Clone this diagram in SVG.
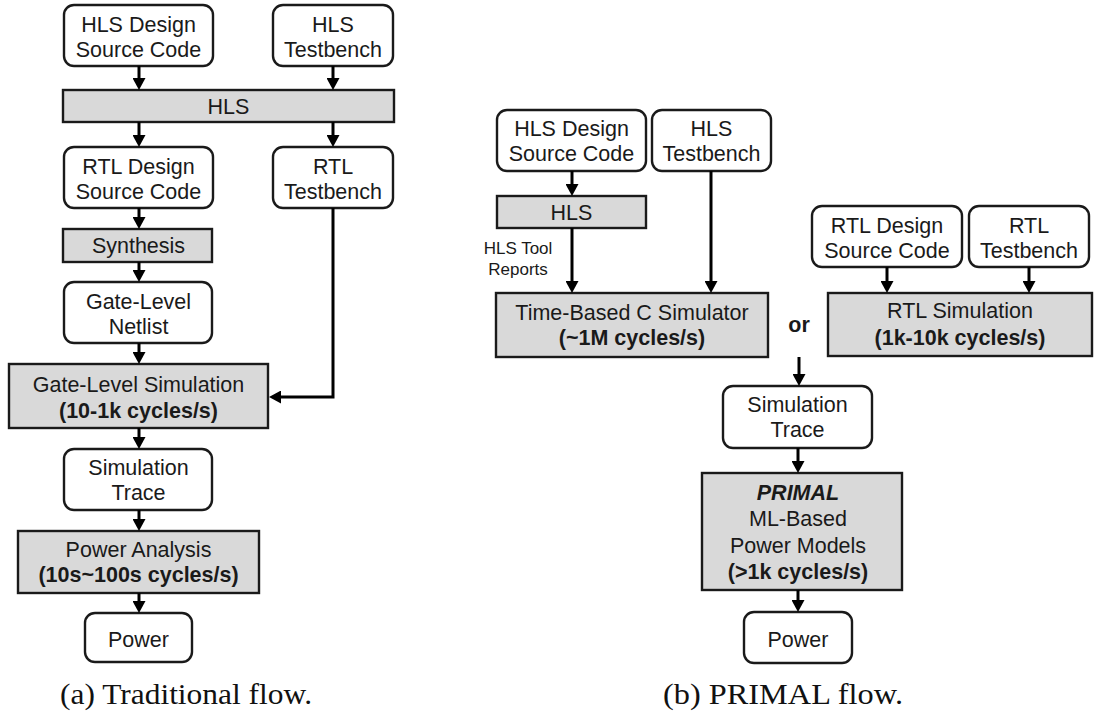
<svg xmlns="http://www.w3.org/2000/svg" width="1094" height="714" viewBox="0 0 1094 714">
  <defs>
    <marker id="arrow" markerUnits="userSpaceOnUse" markerWidth="13" markerHeight="13" refX="2" refY="6.5" orient="auto">
      <path d="M0,0 L12,6.5 L0,13 z" fill="#000"/>
    </marker>
    <style>
      .box { fill: #fff; stroke: #1a1a1a; stroke-width: 2.4; }
      .proc { fill: #d9d9d9; stroke: #1a1a1a; stroke-width: 2.4; }
      .t { font-family: "Liberation Sans", Arial, sans-serif; font-size: 21.5px; fill: #1a1a1a; text-anchor: middle; }
      .b { font-weight: bold; }
      .i { font-style: italic; }
      .small { font-family: "Liberation Sans", Arial, sans-serif; font-size: 17px; fill: #1a1a1a; text-anchor: middle; }
      .cap { font-family: "Liberation Serif", "Times New Roman", serif; font-size: 30px; fill: #111; }
      .conn { fill: none; stroke: #000; stroke-width: 3; }
    </style>
  </defs>
  <rect width="1094" height="714" fill="#fff"/>

  <!-- Traditional flow -->
  <g id="a-hls-src"><rect class="box" x="64" y="5" width="149" height="61" rx="10"/>
    <text class="t" x="138.5" y="32">HLS Design</text><text class="t" x="138.5" y="57">Source Code</text></g>
  <g id="a-hls-tb"><rect class="box" x="273" y="5" width="120" height="61" rx="10"/>
    <text class="t" x="333" y="32">HLS</text><text class="t" x="333" y="57">Testbench</text></g>
  <g id="a-hls"><rect class="proc" x="63" y="90" width="331" height="32"/>
    <text class="t" x="228.5" y="114">HLS</text></g>
  <g id="a-rtl-src"><rect class="box" x="64" y="147" width="149" height="61" rx="10"/>
    <text class="t" x="138.5" y="174">RTL Design</text><text class="t" x="138.5" y="199">Source Code</text></g>
  <g id="a-rtl-tb"><rect class="box" x="273" y="147" width="120" height="61" rx="10"/>
    <text class="t" x="333" y="174">RTL</text><text class="t" x="333" y="199">Testbench</text></g>
  <g id="a-synth"><rect class="proc" x="63" y="229" width="149" height="33"/>
    <text class="t" x="138.5" y="253">Synthesis</text></g>
  <g id="a-netlist"><rect class="box" x="64" y="282" width="148" height="61" rx="10"/>
    <text class="t" x="138.5" y="309">Gate-Level</text><text class="t" x="138.5" y="334">Netlist</text></g>
  <g id="a-gls"><rect class="proc" x="9" y="364" width="259" height="64"/>
    <text class="t" x="138.5" y="392">Gate-Level Simulation</text><text class="t b" x="138.5" y="418">(10-1k cycles/s)</text></g>
  <g id="a-trace"><rect class="box" x="64" y="449" width="148" height="61" rx="10"/>
    <text class="t" x="138.5" y="475">Simulation</text><text class="t" x="138.5" y="500">Trace</text></g>
  <g id="a-pa"><rect class="proc" x="18" y="531" width="241" height="62"/>
    <text class="t" x="138.5" y="557">Power Analysis</text><text class="t b" x="138.5" y="582">(10s~100s cycles/s)</text></g>
  <g id="a-power"><rect class="box" x="85" y="613" width="107" height="49" rx="10"/>
    <text class="t" x="138.5" y="647">Power</text></g>
  <text class="cap" x="60" y="704" textLength="252" lengthAdjust="spacingAndGlyphs">(a) Traditional flow.</text>

  <!-- PRIMAL flow -->
  <g id="b-hls-src"><rect class="box" x="497" y="110" width="149" height="61" rx="10"/>
    <text class="t" x="571.5" y="136">HLS Design</text><text class="t" x="571.5" y="161">Source Code</text></g>
  <g id="b-hls-tb"><rect class="box" x="652" y="110" width="119" height="61" rx="10"/>
    <text class="t" x="711.5" y="136">HLS</text><text class="t" x="711.5" y="161">Testbench</text></g>
  <g id="b-hls"><rect class="proc" x="497" y="196" width="149" height="32"/>
    <text class="t" x="571.5" y="220">HLS</text></g>
  <g id="b-report-label"><text class="small" x="518" y="254">HLS Tool</text><text class="small" x="518" y="275">Reports</text></g>
  <g id="b-csim"><rect class="proc" x="496" y="293" width="272" height="64"/>
    <text class="t" x="632" y="320">Time-Based C Simulator</text><text class="t b" x="632" y="345">(~1M cycles/s)</text></g>
  <g id="b-rtl-src"><rect class="box" x="812" y="206" width="150" height="61" rx="10"/>
    <text class="t" x="887" y="233">RTL Design</text><text class="t" x="887" y="258">Source Code</text></g>
  <g id="b-rtl-tb"><rect class="box" x="969" y="206" width="120" height="61" rx="10"/>
    <text class="t" x="1029" y="233">RTL</text><text class="t" x="1029" y="258">Testbench</text></g>
  <g id="b-rtlsim"><rect class="proc" x="828" y="293" width="264" height="63"/>
    <text class="t" x="960" y="318">RTL Simulation</text><text class="t b" x="960" y="345">(1k-10k cycles/s)</text></g>
  <text class="t b" x="799" y="332">or</text>
  <g id="b-trace"><rect class="box" x="723" y="386" width="149" height="62" rx="10"/>
    <text class="t" x="797.5" y="412">Simulation</text><text class="t" x="797.5" y="437">Trace</text></g>
  <g id="b-primal"><rect class="proc" x="702" y="473" width="200" height="117"/>
    <text class="t b i" x="798" y="500">PRIMAL</text>
    <text class="t" x="798" y="526">ML-Based</text>
    <text class="t" x="798" y="553">Power Models</text>
    <text class="t b" x="798" y="579">(&gt;1k cycles/s)</text></g>
  <g id="b-power"><rect class="box" x="744" y="612" width="108" height="51" rx="10"/>
    <text class="t" x="798" y="647">Power</text></g>
  <text class="cap" x="663" y="704" textLength="240" lengthAdjust="spacingAndGlyphs">(b) PRIMAL flow.</text>

  <!-- connectors -->
  <g id="connectors" class="conn" marker-end="url(#arrow)">
    <path d="M139,66 V80"/>
    <path d="M333,66 V80"/>
    <path d="M139,122 V137"/>
    <path d="M333,122 V137"/>
    <path d="M139,208 V219"/>
    <path d="M139,262 V272"/>
    <path d="M139,343 V354"/>
    <path d="M333,208 V397 H279"/>
    <path d="M139,428 V439"/>
    <path d="M139,510 V521"/>
    <path d="M139,593 V603"/>
    <path d="M572,171 V186"/>
    <path d="M572,228 V283"/>
    <path d="M711,171 V283"/>
    <path d="M887,267 V283"/>
    <path d="M1029,267 V283"/>
    <path d="M799,357 V376"/>
    <path d="M798,448 V463"/>
    <path d="M798,590 V602"/>
  </g>
</svg>
